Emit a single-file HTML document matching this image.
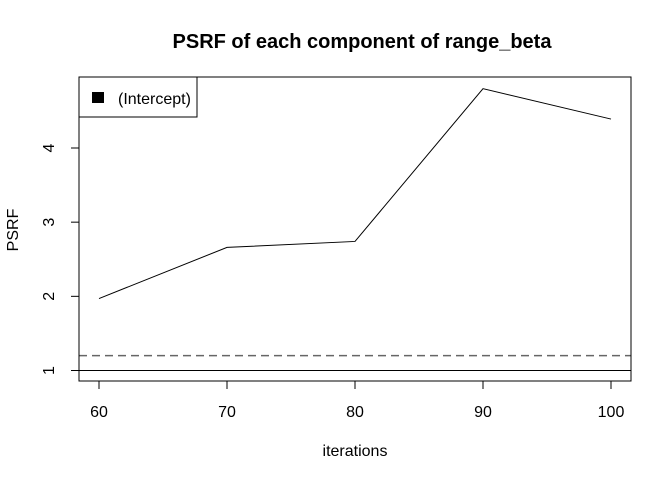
<!DOCTYPE html>
<html><head><meta charset="utf-8"><style>
body{margin:0;background:#fff}
svg{display:block;font-family:"Liberation Sans",sans-serif}
</style></head><body>
<svg width="672" height="480">
<text x="362" y="48" text-anchor="middle" font-weight="bold" font-size="20">PSRF of each component of range_beta</text>
<text x="355" y="456" text-anchor="middle" font-size="16">iterations</text>
<text transform="translate(18,230) rotate(-90)" text-anchor="middle" font-size="16">PSRF</text>
<g id="axes"></g>
<rect x="79" y="77" width="552" height="304" fill="none" stroke="#000"/>
<g>
<rect x="79" y="77" width="118" height="40" fill="#fff" stroke="#000"/>
<rect x="92" y="92" width="12" height="11" fill="#000"/>
<text x="118" y="104" font-size="16">(Intercept)</text>
</g>
</svg>
<script>
const iterations=[60,70,80,90,100];
const psrf=[1.97,2.66,2.74,4.80,4.39];
const xTicks=[60,70,80,90,100];
const yTicks=[1,2,3,4];
const refLine=1.2;
const baseLine=1;
const NS="http://www.w3.org/2000/svg";
const sx=v=>99+(v-60)*12.8;
const sy=v=>370.5-(v-1)*74.17;
const g=document.getElementById('axes');
function mk(t,a){const e=document.createElementNS(NS,t);for(const k in a)e.setAttribute(k,a[k]);g.appendChild(e);return e;}
xTicks.forEach(v=>{
 const l=mk('line',{x1:sx(v),x2:sx(v),y1:381,y2:389,stroke:'#000'});
 
 
 const t=mk('text',{x:sx(v),y:417,'text-anchor':'middle','font-size':16});t.textContent=v;
 
 
});
yTicks.forEach(v=>{
 const l=mk('line',{x1:71,x2:79,y1:sy(v),y2:sy(v),stroke:'#000'});
 
 
 const t=mk('text',{transform:`translate(54,${sy(v)}) rotate(-90)`,'text-anchor':'middle','font-size':16});t.textContent=v;
 
 
});
const b=mk('line',{x1:79,x2:631,y1:sy(baseLine),y2:sy(baseLine),stroke:'#000'});


const r=mk('line',{x1:79,x2:631,y1:sy(refLine),y2:sy(refLine),stroke:'#666','stroke-width':1.5,'stroke-dasharray':'8,5'});


const p=mk('polyline',{points:iterations.map((v,i)=>sx(v)+','+sy(psrf[i])).join(' '),fill:'none',stroke:'#000'});


</script>
</body></html>
